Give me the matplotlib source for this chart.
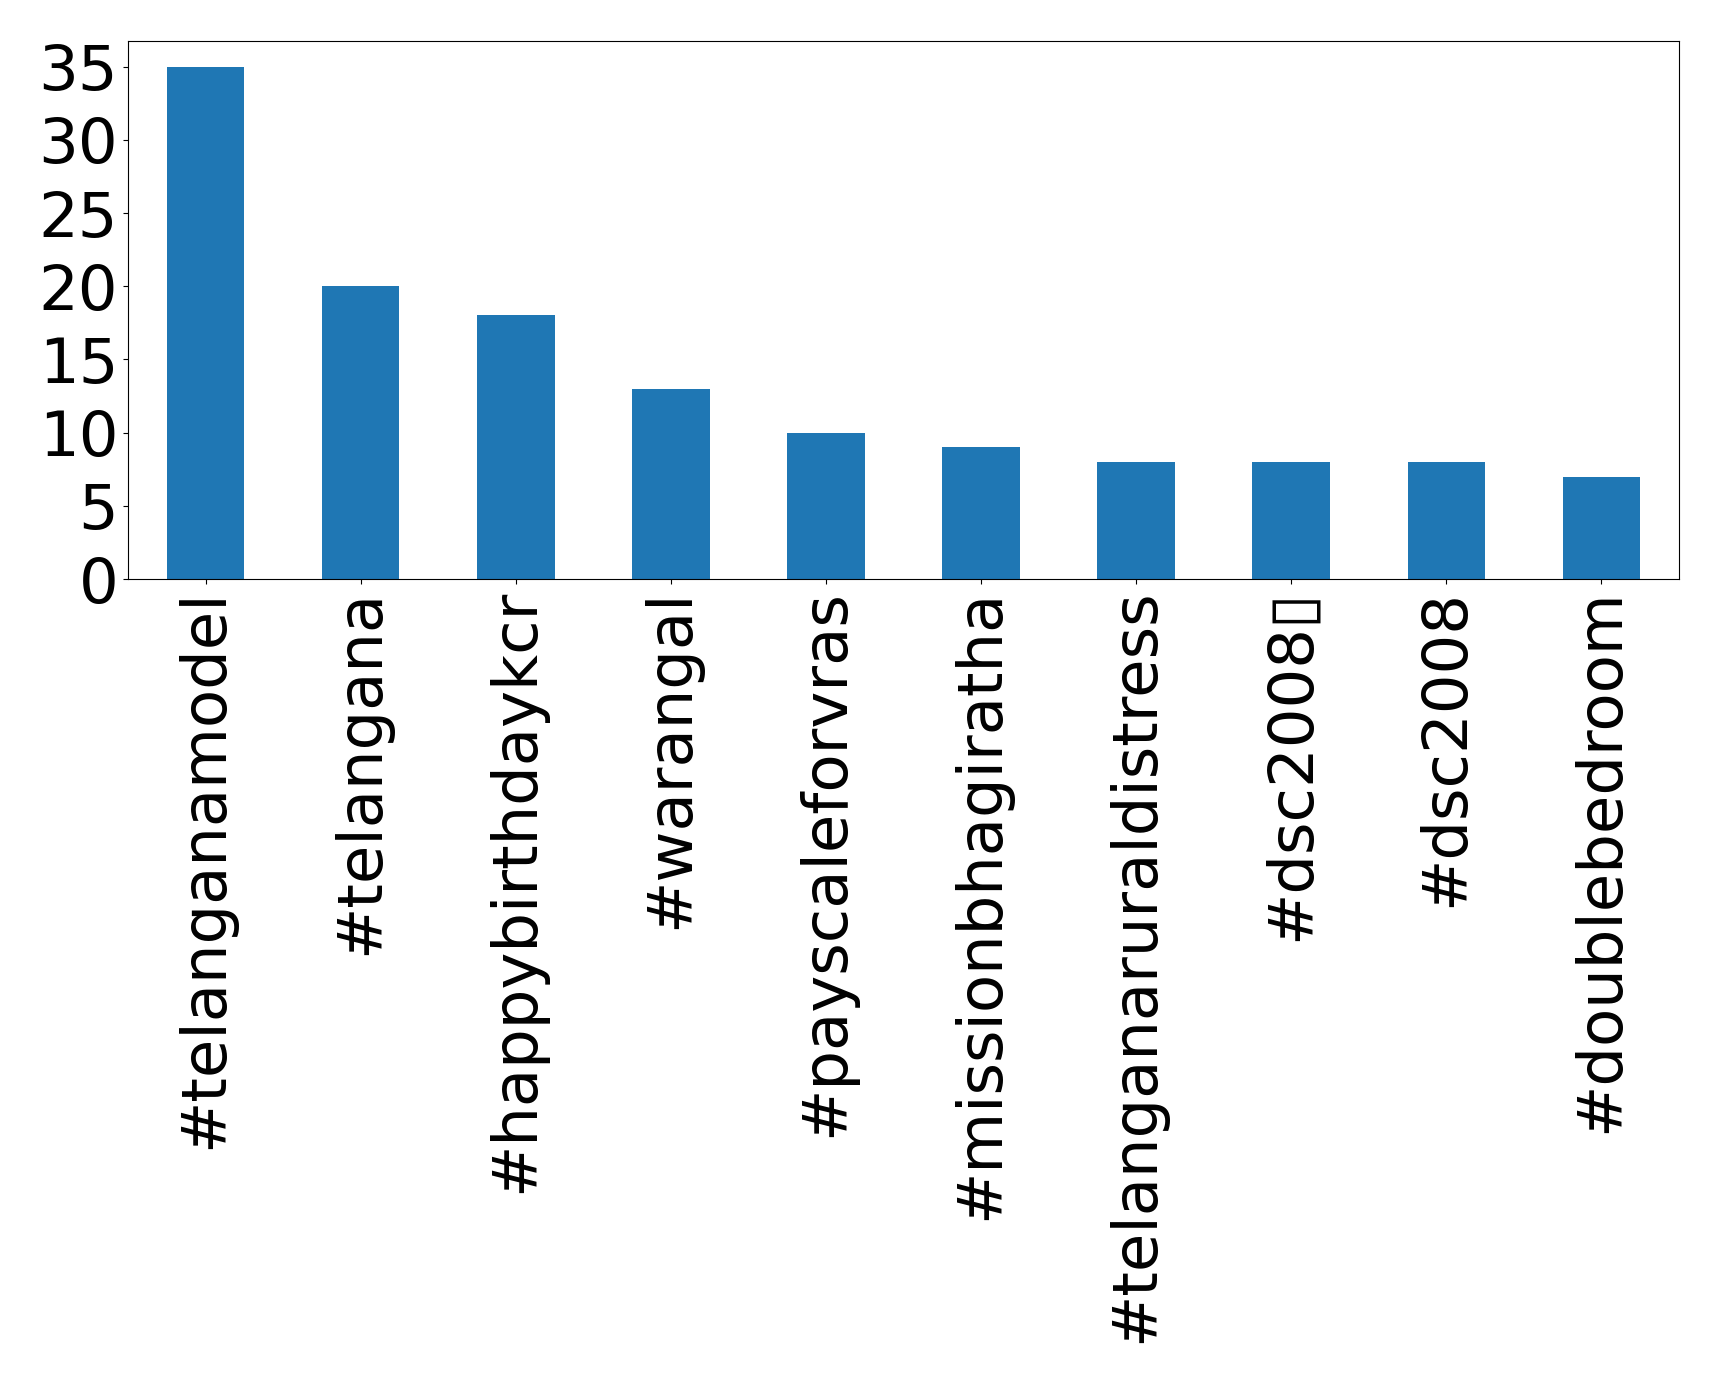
import numpy as np
import matplotlib.pyplot as plt

# hashtags et nombre d'occurrences
hashtags = ["#telanganamodel", "#telangana", "#happybirthdaykcr", "#warangal",
            "#payscaleforvras", "#missionbhagiratha", "#telanganaruraldistress",
            "#dsc2008\u25af", "#dsc2008", "#doublebedroom"]
counts = [35, 20, 18, 13, 10, 9, 8, 8, 8, 7]
yticks = [0, 5, 10, 15, 20, 25, 30, 35]

fig, ax = plt.subplots(figsize=(17.19, 13.83), dpi=100)
fig.subplots_adjust(left=128/1719, right=1679/1719, top=1-41/1383, bottom=1-579/1383)

x = np.arange(len(hashtags))
ax.bar(x, counts, width=0.5, color="#1f77b4")
ax.set_xlim(-0.5, len(hashtags) - 0.5)
ax.set_ylim(0, max(counts) * 1.05)
ax.set_yticks(yticks)
ax.set_xticks(x)
ax.set_xticklabels(hashtags, rotation=90)
ax.tick_params(labelsize=45)

fig.savefig("out.png")
